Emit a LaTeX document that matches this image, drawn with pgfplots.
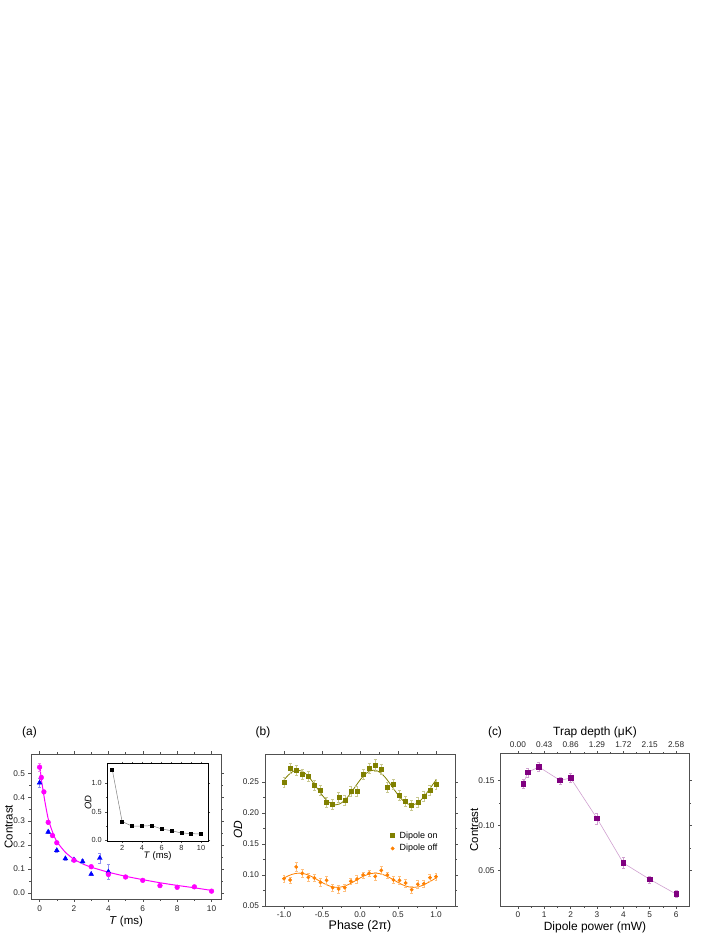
\documentclass[border=0pt]{standalone}
\usepackage{pgfplots}
\pgfplotsset{compat=1.18}
\usepackage{fontspec}
\setmainfont{Liberation Sans}
\definecolor{magp}{HTML}{FF00FF}
\definecolor{magl}{HTML}{F080F0}
\definecolor{blu}{HTML}{0000FF}
\definecolor{blul}{HTML}{9090F0}
\definecolor{oliv}{HTML}{808000}
\definecolor{olivl}{HTML}{C8C890}
\definecolor{oran}{HTML}{FF8000}
\definecolor{oranl}{HTML}{FFC080}
\definecolor{purp}{HTML}{800080}
\definecolor{purpl}{HTML}{D0A0D0}
\definecolor{axc}{HTML}{505050}
\newcommand{\lfont}{\fontsize{12}{14}\selectfont}
\pgfplotsset{
  base/.style={
    scale only axis,
    axis line style={axc, line width=0.7pt},
    tick style={axc, line width=0.5pt},
    tick align=outside,
    major tick length=2.6bp,
    minor tick length=1.6bp,
    minor tick num=1,
    xtick pos=both, ytick pos=both,
    xticklabel pos=lower, yticklabel pos=left,
    /pgf/number format/assume math mode=true,
    tick label style={font=\fontsize{8.3}{10}\selectfont, text=black!85},
    clip=false,
  }
}
\begin{document}
\begin{tikzpicture}
\useasboundingbox (0,0) rectangle (723bp,935bp);
\node[font=\lfont] at (29.5bp,203bp) {(a)};
\node[font=\lfont] at (263bp,203bp) {(b)};
\node[font=\lfont] at (495bp,203bp) {(c)};

% ---------------- (a)
\begin{axis}[base,
  at={(31bp,35.7bp)}, anchor=south west,
  width=190bp, height=145.3bp,
  xmin=-0.5, xmax=10.55, ymin=-0.026, ymax=0.58,
  xtick={0,2,4,6,8,10},
  ytick={0,0.1,0.2,0.3,0.4,0.5},
  yticklabel style={/pgf/number format/.cd, fixed, fixed zerofill, precision=1},
  xlabel={\textit{T} (ms)}, ylabel={Contrast},
  every axis x label/.style={at={(axis description cs:0.5,-0.15)}, anchor=center, font=\fontsize{11.5}{13}\selectfont},
  every axis y label/.style={at={(axis description cs:-0.118,0.5)}, anchor=center, rotate=90, font=\fontsize{11.5}{13}\selectfont},
]
\addplot[magp, line width=1pt, smooth, tension=0.4, no marks] coordinates {
(0,0.54) (0.1,0.475) (0.2,0.43) (0.3,0.385) (0.5,0.31) (0.75,0.255) (1,0.215)
(1.5,0.17) (2,0.141) (2.5,0.122) (3,0.108) (4,0.087) (5,0.07) (6,0.056)
(7,0.043) (8,0.032) (9,0.022) (10,0.011)};
\addplot[only marks, mark=triangle*, mark size=2.8, color=blu,
  error bars/.cd, y dir=both, y explicit, error bar style={blul, line width=0.5pt}, error mark options={blul, rotate=90, mark size=1.5}]
  coordinates {
(0,0.46) +- (0,0.02)
(0.5,0.255) +- (0,0.006)
(1,0.178) +- (0,0.006)
(1.5,0.144) +- (0,0.005)
(2,0.139) +- (0,0.008)
(2.5,0.132) +- (0,0.008)
(3,0.079) +- (0,0.005)
(3.5,0.146) +- (0,0.02)
(4,0.089) +- (0,0.03)
};
\addplot[only marks, mark=*, mark size=2.4, color=magp,
  error bars/.cd, y dir=both, y explicit, error bar style={magl, line width=0.5pt}, error mark options={magl, rotate=90, mark size=1.5}]
  coordinates {
(0,0.525) +- (0,0.015)
(0.1,0.482) +- (0,0.008)
(0.25,0.422) +- (0,0.006)
(0.5,0.295) +- (0,0.006)
(0.75,0.24) +- (0,0.005)
(1,0.21) +- (0,0.005)
(2,0.137) +- (0,0.005)
(3,0.11) +- (0,0.005)
(4,0.078) +- (0,0.006)
(5,0.067) +- (0,0.004)
(6,0.053) +- (0,0.004)
(7,0.031) +- (0,0.004)
(8,0.024) +- (0,0.004)
(9,0.026) +- (0,0.004)
(10,0.008) +- (0,0.004)
};
\end{axis}

% ---------------- inset
\begin{axis}[base,
  at={(107.3bp,94bp)}, anchor=south west,
  width=100.7bp, height=77.3bp,
  axis line style={black, line width=0.6pt},
  xmin=0.5, xmax=10.7, ymin=-0.01, ymax=1.34,
  xtick={2,4,6,8,10}, ytick={0,0.5,1},
  yticklabel style={/pgf/number format/.cd, fixed, fixed zerofill, precision=1},
  tick label style={font=\fontsize{7.4}{9}\selectfont},
  xticklabel style={yshift=1.2bp},
  major tick length=2bp, minor tick length=1.2bp,
  xlabel={\textit{T} (ms)}, ylabel={\textit{OD}},
  every axis x label/.style={at={(axis description cs:0.5,-0.19)}, anchor=center, font=\fontsize{9.5}{11}\selectfont},
  every axis y label/.style={at={(axis description cs:-0.19,0.5)}, anchor=center, rotate=90, font=\fontsize{9.5}{11}\selectfont},
]
\addplot[gray, line width=0.5pt, mark=square*, mark size=1.5, mark options={black}] coordinates {
(1,1.24) (2,0.33) (3,0.25) (4,0.25) (5,0.26) (6,0.20) (7,0.17) (8,0.13) (9,0.12) (10,0.11)};
\end{axis}

% ---------------- (b)
\begin{axis}[base,
  at={(265bp,29bp)}, anchor=south west,
  width=190bp, height=152bp,
  xmin=-1.25, xmax=1.25, ymin=0.05, ymax=0.295,
  xtick={-1,-0.5,0,0.5,1},
  ytick={0.05,0.10,0.15,0.20,0.25},
  xticklabel style={/pgf/number format/.cd, fixed, fixed zerofill, precision=1},
  yticklabel style={/pgf/number format/.cd, fixed, fixed zerofill, precision=2},
  xlabel={Phase (2π)}, ylabel={\textit{OD}},
  every axis x label/.style={at={(axis description cs:0.5,-0.132)}, anchor=center, font=\fontsize{12.5}{15}\selectfont},
  every axis y label/.style={at={(axis description cs:-0.142,0.5)}, anchor=center, rotate=90, font=\fontsize{12}{14}\selectfont},
  legend style={at={(axis description cs:0.655,0.51)}, anchor=north west, draw=none, fill=none,
    font=\fontsize{9}{11}\selectfont, row sep=0.8bp, inner sep=1pt,
    /tikz/every odd column/.append style={column sep=3bp}},
  legend cell align=left,
]
\addplot[oliv, line width=0.8pt, smooth, no marks, forget plot] coordinates {
(-1.00,0.2529) (-0.97,0.2575) (-0.92,0.2637) (-0.87,0.2676) (-0.82,0.2690) (-0.77,0.2676)
(-0.72,0.2637) (-0.67,0.2575) (-0.62,0.2497) (-0.57,0.2410) (-0.52,0.2324) (-0.47,0.2245)
(-0.42,0.2184) (-0.37,0.2144) (-0.32,0.2130) (-0.27,0.2144) (-0.22,0.2184) (-0.17,0.2245)
(-0.12,0.2324) (-0.07,0.2410) (-0.02,0.2497) (0.03,0.2575) (0.08,0.2637) (0.13,0.2676)
(0.18,0.2690) (0.23,0.2676) (0.28,0.2637) (0.33,0.2575) (0.38,0.2497) (0.43,0.2410)
(0.48,0.2324) (0.53,0.2245) (0.58,0.2184) (0.63,0.2144) (0.68,0.2130) (0.73,0.2144)
(0.78,0.2184) (0.83,0.2245) (0.88,0.2324) (0.93,0.2410) (0.98,0.2497) (1.00,0.2529)};
\addplot[oran, line width=0.8pt, smooth, no marks, forget plot] coordinates {
(-1.00,0.0951) (-0.95,0.0983) (-0.90,0.1008) (-0.85,0.1024) (-0.80,0.1030) (-0.75,0.1024)
(-0.70,0.1008) (-0.65,0.0983) (-0.60,0.0951) (-0.55,0.0915) (-0.50,0.0880) (-0.45,0.0847)
(-0.40,0.0822) (-0.35,0.0806) (-0.30,0.0800) (-0.25,0.0806) (-0.20,0.0822) (-0.15,0.0847)
(-0.10,0.0880) (-0.05,0.0915) (0.00,0.0951) (0.05,0.0983) (0.10,0.1008) (0.15,0.1024)
(0.20,0.1030) (0.25,0.1024) (0.30,0.1008) (0.35,0.0983) (0.40,0.0951) (0.45,0.0915)
(0.50,0.0880) (0.55,0.0847) (0.60,0.0822) (0.65,0.0806) (0.70,0.0800) (0.75,0.0806)
(0.80,0.0822) (0.85,0.0847) (0.90,0.0880) (0.95,0.0915) (1.00,0.0951)};
\addplot[only marks, mark=square*, mark size=2, color=oliv,
  error bars/.cd, y dir=both, y explicit, error bar style={olivl, line width=0.5pt}, error mark options={olivl, rotate=90, mark size=1.5}]
  coordinates {
(-1.00,0.250) +- (0,0.008)
(-0.92,0.2715) +- (0,0.008)
(-0.84,0.269) +- (0,0.008)
(-0.76,0.263) +- (0,0.008)
(-0.68,0.259) +- (0,0.008)
(-0.60,0.245) +- (0,0.008)
(-0.52,0.2366) +- (0,0.008)
(-0.44,0.217) +- (0,0.008)
(-0.36,0.2134) +- (0,0.008)
(-0.28,0.225) +- (0,0.008)
(-0.20,0.220) +- (0,0.008)
(-0.12,0.2355) +- (0,0.008)
(-0.04,0.2355) +- (0,0.008)
(0.04,0.262) +- (0,0.008)
(0.12,0.272) +- (0,0.008)
(0.20,0.277) +- (0,0.009)
(0.28,0.271) +- (0,0.008)
(0.36,0.242) +- (0,0.008)
(0.44,0.246) +- (0,0.008)
(0.52,0.228) +- (0,0.008)
(0.60,0.219) +- (0,0.008)
(0.68,0.213) +- (0,0.008)
(0.76,0.217) +- (0,0.008)
(0.84,0.2275) +- (0,0.008)
(0.92,0.2366) +- (0,0.008)
(1.00,0.247) +- (0,0.008)
};
\addlegendentry{Dipole on}
\addplot[only marks, mark=*, mark size=1.7, color=oran,
  error bars/.cd, y dir=both, y explicit, error bar style={oranl, line width=0.5pt}, error mark options={oranl, rotate=90, mark size=1.5}]
  coordinates {
(-1.00,0.094) +- (0,0.006)
(-0.92,0.092) +- (0,0.005)
(-0.84,0.113) +- (0,0.007)
(-0.76,0.1027) +- (0,0.006)
(-0.68,0.0962) +- (0,0.006)
(-0.60,0.0952) +- (0,0.006)
(-0.52,0.0882) +- (0,0.006)
(-0.44,0.0914) +- (0,0.006)
(-0.36,0.0796) +- (0,0.006)
(-0.28,0.0774) +- (0,0.006)
(-0.20,0.0796) +- (0,0.006)
(-0.12,0.0898) +- (0,0.005)
(-0.04,0.0935) +- (0,0.006)
(0.04,0.100) +- (0,0.005)
(0.12,0.1027) +- (0,0.005)
(0.20,0.0978) +- (0,0.006)
(0.28,0.1075) +- (0,0.006)
(0.36,0.100) +- (0,0.005)
(0.44,0.092) +- (0,0.006)
(0.52,0.0914) +- (0,0.006)
(0.60,0.087) +- (0,0.006)
(0.68,0.0763) +- (0,0.005)
(0.76,0.085) +- (0,0.006)
(0.84,0.086) +- (0,0.005)
(0.92,0.0957) +- (0,0.006)
(1.00,0.0973) +- (0,0.006)
};
\addlegendentry{Dipole off}
\end{axis}

% ---------------- (c)
\begin{axis}[base,
  at={(500.7bp,29bp)}, anchor=south west,
  width=188.6bp, height=152.3bp,
  xmin=-0.65, xmax=6.5, ymin=0.011, ymax=0.1795,
  xtick={0,1,2,3,4,5,6},
  ytick={0.05,0.10,0.15},
  yticklabel style={/pgf/number format/.cd, fixed, fixed zerofill, precision=2},
  xlabel={Dipole power (mW)}, ylabel={Contrast},
  every axis x label/.style={at={(axis description cs:0.5,-0.14)}, anchor=center, font=\fontsize{12}{14}\selectfont},
  every axis y label/.style={at={(axis description cs:-0.14,0.5)}, anchor=center, rotate=90, font=\fontsize{11.5}{13}\selectfont},
]
\addplot[purpl, line width=0.6pt, mark=square*, mark size=2.3, mark options={purp},
  error bars/.cd, y dir=both, y explicit, error bar style={purpl, line width=0.5pt}, error mark options={purpl, rotate=90, mark size=1.5}]
  coordinates {
(0.2,0.146) +- (0,0.005)
(0.38,0.159) +- (0,0.005)
(0.8,0.1648) +- (0,0.005)
(1.6,0.150) +- (0,0.004)
(2,0.1526) +- (0,0.005)
(3,0.108) +- (0,0.006)
(4,0.0585) +- (0,0.006)
(5,0.0405) +- (0,0.004)
(6,0.0242) +- (0,0.004)
};
\end{axis}
\begin{axis}[base,
  at={(500.7bp,29bp)}, anchor=south west,
  width=188.6bp, height=152.3bp,
  xmin=-0.65, xmax=6.5, ymin=0.011, ymax=0.1795,
  axis x line*=top, hide y axis,
  xtick pos=upper, xticklabel pos=upper,
  xtick={0,1,2,3,4,5,6},
  xticklabels={0.00,0.43,0.86,1.29,1.72,2.15,2.58},
  xlabel={Trap depth (μK)},
  every axis x label/.style={at={(axis description cs:0.5,1.142)}, anchor=center, font=\fontsize{12}{14}\selectfont},
]
\addplot[draw=none, forget plot] coordinates {(0,0.1) (6,0.1)};
\end{axis}
\end{tikzpicture}
\end{document}
